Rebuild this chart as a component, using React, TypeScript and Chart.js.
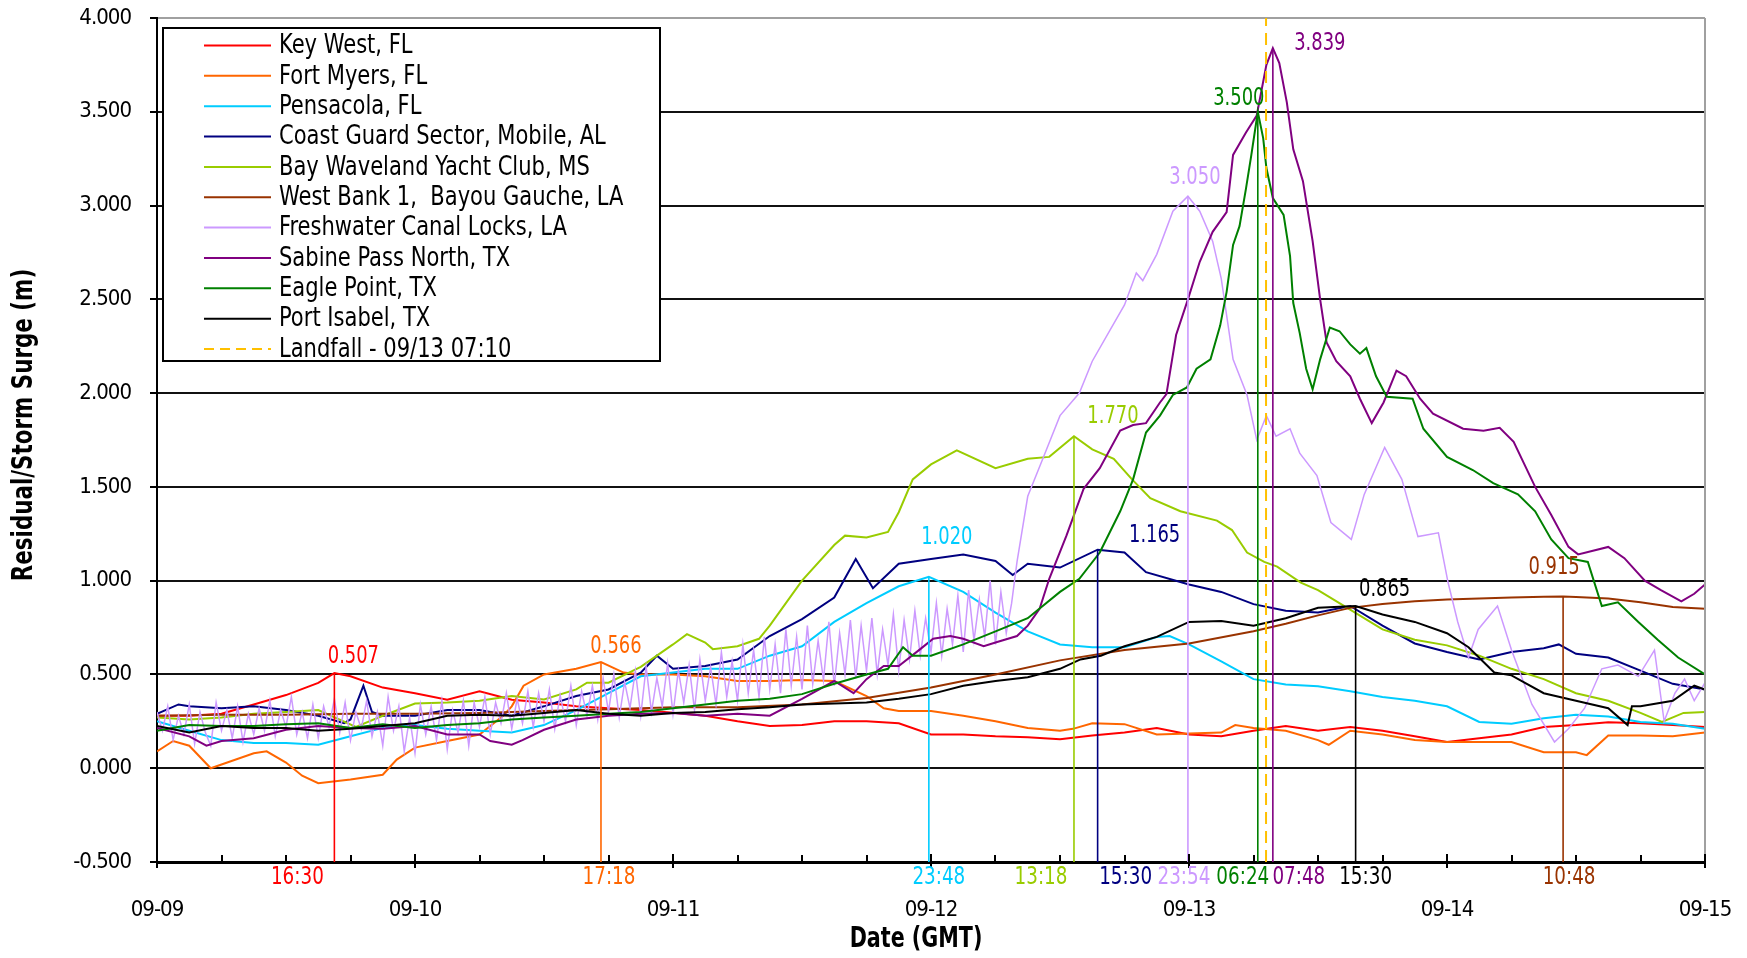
import React, { useEffect, useRef } from 'react';
import { Chart, registerables } from 'chart.js';

Chart.register(...registerables);

// ---------- DATA ----------
const DAY_LABELS = ['09-09', '09-10', '09-11', '09-12', '09-13', '09-14', '09-15'];

const SERIES_NAMES = [
  'Key West, FL',
  'Fort Myers, FL',
  'Pensacola, FL',
  'Coast Guard Sector, Mobile, AL',
  'Bay Waveland Yacht Club, MS',
  'West Bank 1,  Bayou Gauche, LA',
  'Freshwater Canal Locks, LA',
  'Sabine Pass North, TX',
  'Eagle Point, TX',
  'Port Isabel, TX',
];
const LANDFALL_NAME = 'Landfall - 09/13 07:10';
const LANDFALL_HOUR = 103.1667;

// [hours since 09-09 00:00 GMT, surge (m)]
const KEY_WEST: [number, number][] = [
  [0, 0.28], [3, 0.28], [6, 0.29], [9, 0.34], [12, 0.39], [15, 0.455], [16.5, 0.507], [18, 0.49], [21, 0.43],
  [24, 0.4], [27, 0.365], [30, 0.41], [33, 0.365], [36, 0.35], [39, 0.33], [42, 0.32], [45, 0.31], [48, 0.296],
  [51, 0.28], [54, 0.25], [57, 0.225], [60, 0.23], [63, 0.25], [66, 0.25], [69, 0.24], [72, 0.18], [75, 0.18],
  [78, 0.17], [81, 0.165], [84, 0.155], [87, 0.175], [90, 0.19], [93, 0.215], [96, 0.18], [99, 0.17], [102, 0.2],
  [105, 0.225], [108, 0.2], [111, 0.22], [114, 0.2], [117, 0.17], [120, 0.14], [123, 0.16], [126, 0.18],
  [129, 0.22], [132, 0.23], [135, 0.245], [138, 0.24], [141, 0.23], [144, 0.22],
];

const FORT_MYERS: [number, number][] = [
  [0, 0.09], [1.5, 0.145], [3, 0.12], [5, 0.0], [6, 0.02], [9, 0.08], [10.2, 0.09], [12, 0.03], [13.5, -0.04],
  [15, -0.08], [18, -0.06], [21, -0.035], [22.3, 0.046], [24, 0.11], [27, 0.145], [30, 0.18], [32.2, 0.28],
  [33, 0.33], [34.1, 0.44], [36, 0.5], [39, 0.53], [41.3, 0.566], [43.4, 0.51], [45, 0.5], [48, 0.5], [51, 0.49],
  [54, 0.465], [57, 0.465], [60, 0.47], [63, 0.465], [66, 0.385], [67.6, 0.32], [69, 0.305], [72, 0.305],
  [75, 0.28], [78, 0.25], [81, 0.215], [84, 0.2], [85.2, 0.21], [87, 0.24], [90, 0.235], [93, 0.18], [96, 0.185],
  [99, 0.19], [100.3, 0.23], [102, 0.215], [105, 0.2], [108, 0.15], [109, 0.125], [111, 0.2], [114, 0.18],
  [117, 0.15], [120, 0.14], [123, 0.14], [126, 0.14], [129, 0.085], [132, 0.085], [133, 0.07], [135, 0.175],
  [138, 0.175], [141, 0.17], [144, 0.19],
];

const PENSACOLA: [number, number][] = [
  [0, 0.25], [3, 0.2], [6, 0.15], [9, 0.135], [12, 0.135], [15, 0.125], [18, 0.17], [21, 0.215], [24, 0.23],
  [27, 0.21], [30, 0.2], [33, 0.19], [36, 0.23], [39, 0.31], [42, 0.4], [45, 0.49], [48, 0.51], [51, 0.53],
  [54, 0.53], [57, 0.6], [60, 0.65], [63, 0.78], [66, 0.88], [69, 0.97], [71.8, 1.02], [75, 0.94], [78, 0.83],
  [81, 0.73], [84, 0.66], [87, 0.645], [90, 0.645], [93, 0.7], [94.2, 0.705], [96, 0.66], [99, 0.57],
  [102, 0.475], [105, 0.447], [108, 0.437], [111, 0.41], [114, 0.38], [117, 0.36], [120, 0.33], [123, 0.247],
  [126, 0.237], [129, 0.266], [132, 0.285], [135, 0.276], [138, 0.247], [141, 0.237], [144, 0.21],
];

const COAST_GUARD: [number, number][] = [
  [0, 0.29], [2, 0.34], [3, 0.33], [6, 0.32], [9, 0.33], [12, 0.31], [15, 0.28], [17.4, 0.24], [18, 0.26],
  [19.2, 0.44], [20, 0.3], [21, 0.28], [24, 0.28], [27, 0.31], [30, 0.31], [33, 0.28], [36, 0.33], [39, 0.385],
  [42, 0.42], [45, 0.51], [46.5, 0.6], [48, 0.53], [51, 0.545], [54, 0.58], [57, 0.705], [60, 0.795], [63, 0.91],
  [65, 1.115], [66.6, 0.96], [69, 1.09], [72, 1.115], [75, 1.14], [78, 1.105], [79.6, 1.03], [81, 1.09],
  [84, 1.07], [87.5, 1.165], [90, 1.15], [92, 1.045], [96, 0.98], [99, 0.94], [102, 0.875], [105, 0.84],
  [108, 0.83], [111, 0.865], [114, 0.76], [117, 0.665], [120, 0.62], [123, 0.58], [126, 0.62], [129, 0.64],
  [130.4, 0.66], [132, 0.61], [135, 0.59], [138, 0.52], [141, 0.45], [144, 0.42],
];

const BAY_WAVELAND: [number, number][] = [
  [0, 0.27], [3, 0.26], [6, 0.27], [9, 0.29], [12, 0.3], [15, 0.31], [18.5, 0.22], [21, 0.28], [24, 0.345],
  [27, 0.35], [30, 0.36], [33, 0.385], [36, 0.367], [39, 0.42], [40, 0.456], [42, 0.456], [45, 0.54], [48, 0.66],
  [49.3, 0.715], [51, 0.67], [51.7, 0.635], [54, 0.65], [56, 0.69], [57, 0.76], [60, 1.0], [63, 1.19], [64, 1.24],
  [66, 1.23], [68, 1.26], [69, 1.365], [70.3, 1.54], [72, 1.62], [74.4, 1.695], [78, 1.6], [81, 1.65], [83, 1.66],
  [85.3, 1.77], [87, 1.7], [89, 1.65], [90.7, 1.54], [92.4, 1.44], [95.2, 1.37], [98.6, 1.32], [100, 1.27],
  [101.4, 1.15], [103, 1.1], [104.2, 1.075], [106.4, 0.99], [108, 0.95], [110.3, 0.87], [114, 0.74],
  [117, 0.685], [120, 0.655], [123, 0.6], [126, 0.53], [129, 0.475], [132, 0.4], [135, 0.36], [138, 0.295],
  [140, 0.247], [142, 0.295], [144, 0.3],
];

const WEST_BANK: [number, number][] = [
  [0, 0.28], [6, 0.285], [12, 0.285], [18, 0.29], [24, 0.29], [30, 0.295], [36, 0.305], [42, 0.315], [48, 0.325],
  [54, 0.325], [60, 0.34], [66, 0.375], [72, 0.43], [78, 0.5], [84, 0.575], [90, 0.63], [96, 0.665], [102, 0.73],
  [105, 0.77], [108, 0.815], [111, 0.855], [114, 0.875], [117, 0.89], [120, 0.9], [123, 0.905], [126, 0.91],
  [129, 0.914], [130.8, 0.915], [132, 0.913], [135, 0.905], [138, 0.885], [141, 0.86], [144, 0.85],
];

const FRESHWATER: [number, number][] = [
  [0, 0.3], [0.5, 0.2], [1, 0.33], [1.5, 0.15], [2, 0.28], [2.5, 0.18], [3, 0.34], [3.5, 0.13], [4, 0.3], [4.5, 0.19],
  [5, 0.12], [5.5, 0.35], [6, 0.2], [6.5, 0.31], [7, 0.16], [7.5, 0.33], [8, 0.14], [8.5, 0.29], [9, 0.18], [9.5, 0.32],
  [10, 0.2], [10.5, 0.36], [11, 0.17], [11.5, 0.31], [12, 0.22], [12.5, 0.38], [13, 0.18], [13.5, 0.3], [14, 0.16], [14.5, 0.34],
  [15, 0.16], [15.5, 0.33], [16, 0.22], [16.5, 0.37], [17, 0.19], [17.5, 0.35], [18, 0.15], [18.5, 0.3], [19, 0.21], [19.5, 0.36],
  [20, 0.17], [20.5, 0.3], [21, 0.12], [21.5, 0.38], [22, 0.2], [22.5, 0.33], [23, 0.09], [23.5, 0.27], [24, 0.08], [24.5, 0.34],
  [25, 0.18], [25.5, 0.33], [26, 0.15], [26.5, 0.36], [27, 0.1], [27.5, 0.31], [28, 0.19], [28.5, 0.36], [29, 0.12], [29.5, 0.35],
  [30, 0.22], [30.5, 0.38], [31, 0.18], [31.5, 0.35], [32, 0.24], [32.5, 0.4], [33, 0.21], [33.5, 0.37], [34, 0.24], [34.5, 0.41],
  [35, 0.22], [35.5, 0.4], [36, 0.25], [36.5, 0.42], [37, 0.21], [37.5, 0.39], [38, 0.25], [38.5, 0.44], [39, 0.23], [39.5, 0.41],
  [40, 0.28], [40.5, 0.44], [41, 0.26], [41.5, 0.48], [42, 0.3], [42.5, 0.5], [43, 0.27], [43.5, 0.46], [44, 0.32], [44.5, 0.52],
  [45, 0.28], [45.5, 0.54], [46, 0.3], [46.5, 0.48], [47, 0.33], [47.5, 0.56], [48, 0.29], [48.5, 0.52], [49, 0.35], [49.5, 0.55],
  [50, 0.31], [50.5, 0.58], [51, 0.36], [51.5, 0.54], [52, 0.34], [52.5, 0.62], [53, 0.38], [53.5, 0.57], [54, 0.36], [54.5, 0.66],
  [55, 0.4], [55.5, 0.63], [56, 0.38], [56.5, 0.7], [57, 0.42], [57.5, 0.66], [58, 0.4], [58.5, 0.74], [59, 0.44], [59.5, 0.7],
  [60, 0.42], [60.5, 0.76], [61, 0.45], [61.5, 0.68], [62, 0.47], [62.5, 0.78], [63, 0.44], [63.5, 0.72], [64, 0.5], [64.5, 0.79],
  [65, 0.48], [65.5, 0.76], [66, 0.52], [66.5, 0.8], [67, 0.5], [67.5, 0.74], [68, 0.55], [68.5, 0.82], [69, 0.52], [69.5, 0.79],
  [70, 0.58], [70.5, 0.84], [71, 0.6], [71.5, 0.8], [72, 0.62], [72.5, 0.88], [73, 0.6], [73.5, 0.85], [74, 0.66], [74.5, 0.92],
  [75, 0.62], [75.5, 0.95], [76, 0.68], [76.5, 0.9], [77, 0.7], [77.5, 1.0], [78, 0.66], [78.5, 0.94], [79, 0.72], [79.5, 0.88],
  [80, 1.1], [81, 1.45],
  [82.4, 1.65], [84, 1.88], [85.8, 2.0], [87, 2.17], [88.6, 2.33], [90, 2.47], [91.1, 2.64], [91.7, 2.6],
  [93, 2.74], [94.5, 2.97], [95.9, 3.05], [97, 2.97], [98.2, 2.81], [99, 2.61], [100.1, 2.18], [101.4, 1.99],
  [102.3, 1.75], [103.2, 1.88], [104.1, 1.77], [105.4, 1.81], [106.3, 1.68], [107.9, 1.56], [109.2, 1.31],
  [111.1, 1.22], [112.3, 1.46], [114.2, 1.71], [115.8, 1.54], [117.3, 1.235], [119.2, 1.255], [120.1, 0.99],
  [121, 0.78], [122, 0.59], [122.9, 0.74], [124.7, 0.865], [126, 0.63], [127.9, 0.34], [130, 0.14],
  [131.3, 0.21], [132.8, 0.32], [134.4, 0.53], [135.9, 0.55], [137.8, 0.49], [139.3, 0.63], [140.2, 0.25],
  [141.2, 0.4], [142.1, 0.475], [143, 0.36], [144, 0.456],
];

const SABINE_PASS: [number, number][] = [
  [0, 0.215], [3, 0.17], [4.6, 0.12], [6, 0.145], [9, 0.16], [12, 0.205], [15, 0.225], [18, 0.215], [21, 0.21],
  [24, 0.225], [27, 0.18], [30, 0.18], [31, 0.145], [33, 0.125], [34, 0.15], [36, 0.205], [39, 0.26], [42, 0.28],
  [45, 0.29], [48, 0.295], [51, 0.28], [54, 0.29], [57, 0.28], [60, 0.37], [63, 0.465], [64.8, 0.4], [66, 0.475],
  [67.6, 0.545], [69, 0.545], [71, 0.635], [72.2, 0.69], [73.8, 0.705], [75, 0.69], [76.9, 0.65], [78, 0.67],
  [80, 0.705], [81, 0.76], [82.1, 0.85], [83, 1.01], [84.6, 1.24], [86.2, 1.49], [87.7, 1.6], [89.6, 1.8],
  [90.8, 1.83], [92, 1.84], [93.3, 1.95], [93.9, 1.995], [94.8, 2.31], [95.9, 2.5], [97, 2.7], [98.2, 2.86],
  [99.5, 2.965], [100.1, 3.27], [101.3, 3.39], [102.3, 3.48], [103.2, 3.75], [103.8, 3.839], [104.4, 3.76],
  [105.1, 3.55], [105.7, 3.3], [106.6, 3.13], [107.5, 2.81], [108.2, 2.5], [108.8, 2.27], [109.7, 2.17],
  [111, 2.09], [111.9, 1.97], [113, 1.84], [114.1, 1.95], [115.3, 2.12], [116.2, 2.09], [117.5, 1.97],
  [118.7, 1.89], [121.5, 1.81], [123.4, 1.8], [124.9, 1.815], [126.2, 1.74], [128.2, 1.5], [129.7, 1.35],
  [131.3, 1.18], [132.2, 1.14], [135, 1.18], [136.5, 1.12], [138.4, 1.0], [139.9, 0.95], [141.8, 0.89],
  [143, 0.93], [144, 0.98],
];

const EAGLE_POINT: [number, number][] = [
  [0, 0.2], [3, 0.23], [6, 0.225], [9, 0.225], [12, 0.235], [15, 0.24], [18, 0.215], [21, 0.235], [24, 0.215],
  [27, 0.23], [30, 0.24], [33, 0.26], [36, 0.27], [39, 0.28], [42, 0.29], [45, 0.3], [48, 0.32], [51, 0.34],
  [54, 0.36], [57, 0.37], [60, 0.395], [63, 0.45], [66, 0.5], [68, 0.53], [69.4, 0.645], [70.3, 0.6], [72, 0.6],
  [75, 0.66], [78, 0.73], [81, 0.8], [84, 0.94], [85.8, 1.01], [87.7, 1.15], [89.6, 1.37], [90.8, 1.54],
  [92, 1.79], [93.3, 1.88], [94.5, 1.99], [95.8, 2.03], [96.7, 2.13], [98, 2.18], [98.9, 2.36], [99.5, 2.54],
  [100.1, 2.79], [100.7, 2.89], [101.3, 3.09], [101.8, 3.27], [102.4, 3.5], [102.9, 3.36], [103.2, 3.2],
  [103.8, 3.04], [104.8, 2.95], [105.4, 2.73], [105.7, 2.48], [106.3, 2.32], [106.9, 2.13], [107.5, 2.02],
  [108.2, 2.18], [109.1, 2.35], [110, 2.33], [111, 2.26], [111.9, 2.21], [112.5, 2.24], [113.4, 2.09],
  [114.4, 1.98], [116.8, 1.97], [117.8, 1.81], [120, 1.66], [122.4, 1.59], [124.3, 1.52], [126.6, 1.46],
  [128.2, 1.37], [129.7, 1.22], [131.3, 1.12], [133.1, 1.1], [134.4, 0.865], [135.9, 0.885], [137.8, 0.78],
  [139.6, 0.685], [141.5, 0.59], [144, 0.5],
];

const PORT_ISABEL: [number, number][] = [
  [0, 0.225], [3, 0.19], [6, 0.225], [9, 0.215], [12, 0.215], [15, 0.2], [18, 0.21], [21, 0.225], [24, 0.24],
  [27, 0.28], [30, 0.285], [33, 0.28], [36, 0.295], [39, 0.31], [42, 0.29], [45, 0.28], [48, 0.295], [51, 0.3],
  [54, 0.315], [57, 0.325], [60, 0.34], [63, 0.345], [66, 0.35], [69, 0.37], [72, 0.395], [75, 0.44], [78, 0.465],
  [81, 0.485], [84, 0.53], [85.9, 0.58], [87.8, 0.6], [90, 0.65], [93, 0.7], [96, 0.78], [99, 0.785], [102, 0.76],
  [105, 0.8], [108, 0.855], [111.5, 0.865], [114, 0.82], [117, 0.78], [120, 0.72], [122, 0.645], [124.4, 0.51],
  [126, 0.495], [129, 0.4], [132, 0.36], [135, 0.32], [136.8, 0.23], [137.2, 0.33], [138, 0.33], [141, 0.36],
  [143, 0.44], [144, 0.42],
];

const SERIES_DATA = [
  KEY_WEST, FORT_MYERS, PENSACOLA, COAST_GUARD, BAY_WAVELAND,
  WEST_BANK, FRESHWATER, SABINE_PASS, EAGLE_POINT, PORT_ISABEL,
];

// peak markers (same order as series)
const PEAK_HOURS = [16.5, 41.3, 71.8, 87.5, 85.3, 130.8, 95.9, 103.8, 102.4, 111.5];
const PEAK_VALUES = [0.507, 0.566, 1.02, 1.165, 1.77, 0.915, 3.05, 3.839, 3.5, 0.865];
const PEAK_TIME_LABELS = ['16:30', '17:18', '23:48', '15:30', '13:18', '10:48', '23:54', '07:48', '06:24', '15:30'];

// ---------- STYLE ----------
const FONT = '"DejaVu Sans Condensed", "DejaVu Sans", sans-serif';
const COLORS = ['#ff0000', '#ff6600', '#00ccff', '#000080', '#99cc00', '#993300', '#cc99ff', '#800080', '#008000', '#000000'];
const LANDFALL_COLOR = '#ffc000';
const LINE_WIDTHS = [2, 2, 2, 2, 2, 2, 1.5, 2, 2, 2];
// offsets (px) of the value label centre from the peak point
const VALUE_LABEL_OFFSETS: [number, number][] = [
  [19, -17], [15, -16], [18, -40], [57, -15], [39, -20], [-9, -30], [7, -19], [47, -5], [-19, -14], [29, -17],
];
// horizontal offsets (px) of the time labels under the axis
const TIME_LABEL_DX = [-37, 8, 10, 28, -33, 6, -4, 26, -15, 10];

function squeezedText(
  ctx: CanvasRenderingContext2D, text: string, x: number, y: number, sx: number, align: CanvasTextAlign,
) {
  ctx.save();
  ctx.translate(x, y);
  ctx.scale(sx, 1);
  ctx.textAlign = align;
  ctx.fillText(text, 0, 0);
  ctx.restore();
}

const decorPlugin = {
  id: 'decor',
  beforeDraw(chart: any) {
    (chart.ctx as any).letterSpacing = '-1px';
  },
  afterDraw(chart: any) {
    const ctx: CanvasRenderingContext2D = chart.ctx;
    const xs = chart.scales.x;
    const ys = chart.scales.y;
    const a = chart.chartArea;
    ctx.save();
    (ctx as any).letterSpacing = '0px';

    // right border (grey)
    ctx.strokeStyle = '#a0a0a0';
    ctx.lineWidth = 2;
    ctx.beginPath();
    ctx.moveTo(a.right, a.top);
    ctx.lineTo(a.right, a.bottom);
    ctx.stroke();

    // x ticks: majors every day, minors every 6 h
    ctx.strokeStyle = '#000';
    ctx.lineWidth = 2;
    for (let h = 0; h <= 144; h += 6) {
      const px = Math.round(xs.getPixelForValue(h));
      ctx.beginPath();
      if (h % 24 === 0) {
        ctx.moveTo(px, a.bottom - 8);
        ctx.lineTo(px, a.bottom + 6);
      } else {
        ctx.moveTo(px, a.bottom - 7);
        ctx.lineTo(px, a.bottom);
      }
      ctx.stroke();
    }

    // peak value labels and time labels
    ctx.textBaseline = 'middle';
    ctx.font = `24px ${FONT}`;
    for (let i = 0; i < PEAK_HOURS.length; i++) {
      const px = xs.getPixelForValue(PEAK_HOURS[i]);
      const py = ys.getPixelForValue(PEAK_VALUES[i]);
      ctx.fillStyle = COLORS[i];
      squeezedText(ctx, PEAK_VALUES[i].toFixed(3), px + VALUE_LABEL_OFFSETS[i][0], py + VALUE_LABEL_OFFSETS[i][1] + 1, 0.83, 'center');
      squeezedText(ctx, PEAK_TIME_LABELS[i], px + TIME_LABEL_DX[i], a.bottom + 16, 0.85, 'center');
    }

    // axis titles
    ctx.fillStyle = '#000';
    ctx.font = `bold 28px ${FONT}`;
    squeezedText(ctx, 'Date (GMT)', (a.left + a.right) / 2 - 15, a.bottom + 78, 0.82, 'center');
    ctx.save();
    ctx.translate(a.left - 132, (a.top + a.bottom) / 2 - 15);
    ctx.rotate(-Math.PI / 2);
    squeezedText(ctx, 'Residual/Storm Surge (m)', 0, 0, 0.85, 'center');
    ctx.restore();

    // legend
    const lx = a.left + 6;
    const ly = a.top + 10;
    const lw = 497;
    const lh = 333;
    ctx.fillStyle = '#fff';
    ctx.fillRect(lx, ly, lw, lh);
    ctx.strokeStyle = '#000';
    ctx.lineWidth = 2;
    ctx.strokeRect(lx, ly, lw, lh);
    const names = [...SERIES_NAMES, LANDFALL_NAME];
    const cols = [...COLORS, LANDFALL_COLOR];
    ctx.font = `26px ${FONT}`;
    for (let i = 0; i < names.length; i++) {
      const ry = ly + 17.5 + i * 30.35;
      ctx.strokeStyle = cols[i];
      ctx.lineWidth = 2;
      ctx.setLineDash(i === names.length - 1 ? [10, 6] : []);
      ctx.beginPath();
      ctx.moveTo(lx + 41, ry);
      ctx.lineTo(lx + 108, ry);
      ctx.stroke();
      ctx.setLineDash([]);
      ctx.fillStyle = '#000';
      squeezedText(ctx, names[i], lx + 116, ry + 1, 0.9, 'left');
    }
    ctx.restore();
  },
};

function zeroPadding(s: any) {
  s.paddingTop = 0;
  s.paddingBottom = 0;
  s.paddingLeft = 0;
  s.paddingRight = 0;
}

export default function App() {
  const ref = useRef<HTMLCanvasElement>(null);

  useEffect(() => {
    document.body.style.margin = '0';
    const canvas = ref.current;
    if (!canvas) return;

    const seriesSets = SERIES_DATA.map((d, i) => ({
      label: SERIES_NAMES[i],
      data: d.map(([x, y]) => ({ x, y })),
      borderColor: COLORS[i],
      backgroundColor: COLORS[i],
      borderWidth: LINE_WIDTHS[i],
      pointRadius: 0,
      tension: 0,
      fill: false,
      order: 100 - i,
    }));
    const markerSets = PEAK_HOURS.map((h, i) => ({
      label: 'peak ' + SERIES_NAMES[i],
      data: [{ x: h, y: -0.5 }, { x: h, y: PEAK_VALUES[i] }],
      borderColor: COLORS[i],
      borderWidth: 1.6,
      pointRadius: 0,
      fill: false,
      order: 50,
    }));
    const landfall = {
      label: LANDFALL_NAME,
      data: [{ x: LANDFALL_HOUR, y: -0.5 }, { x: LANDFALL_HOUR, y: 4.0 }],
      borderColor: LANDFALL_COLOR,
      borderWidth: 2,
      borderDash: [12, 7],
      pointRadius: 0,
      fill: false,
      order: 0,
    };

    const chart = new Chart(canvas, {
      type: 'line',
      data: { datasets: [...seriesSets, ...markerSets, landfall] as any },
      options: {
        animation: false,
        responsive: false,
        devicePixelRatio: 1,
        parsing: false as any,
        normalized: true,
        layout: { padding: { left: 0, right: 42, top: 18, bottom: 0 } },
        plugins: { legend: { display: false }, tooltip: { enabled: false } },
        scales: {
          x: {
            type: 'linear',
            min: 0,
            max: 144,
            afterFit: (s: any) => { s.height = 96; zeroPadding(s); },
            ticks: {
              stepSize: 24,
              autoSkip: false,
              maxRotation: 0,
              color: '#000',
              padding: 27,
              font: { family: FONT, size: 22 },
              callback: (v: any) => DAY_LABELS[Math.round(Number(v) / 24)] ?? '',
            },
            grid: { display: false },
            border: { display: true, color: '#000', width: 3 },
          },
          y: {
            min: -0.5,
            max: 4.0,
            afterFit: (s: any) => { s.width = 157; zeroPadding(s); },
            ticks: {
              stepSize: 0.5,
              color: '#000',
              padding: 19,
              font: { family: FONT, size: 22 },
              callback: (v: any) => Number(v).toFixed(3),
            },
            grid: {
              color: (c: any) => (c.tick && Math.abs(c.tick.value - 4) < 1e-6 ? '#a0a0a0' : '#111'),
              lineWidth: 2,
              tickLength: 7,
              tickColor: '#000',
              tickWidth: 2,
            },
            border: { display: true, color: '#000', width: 2 },
          },
        },
      },
      plugins: [decorPlugin],
    });
    return () => chart.destroy();
  }, []);

  return <canvas ref={ref} width={1747} height={958} style={{ display: 'block' }} />;
}
